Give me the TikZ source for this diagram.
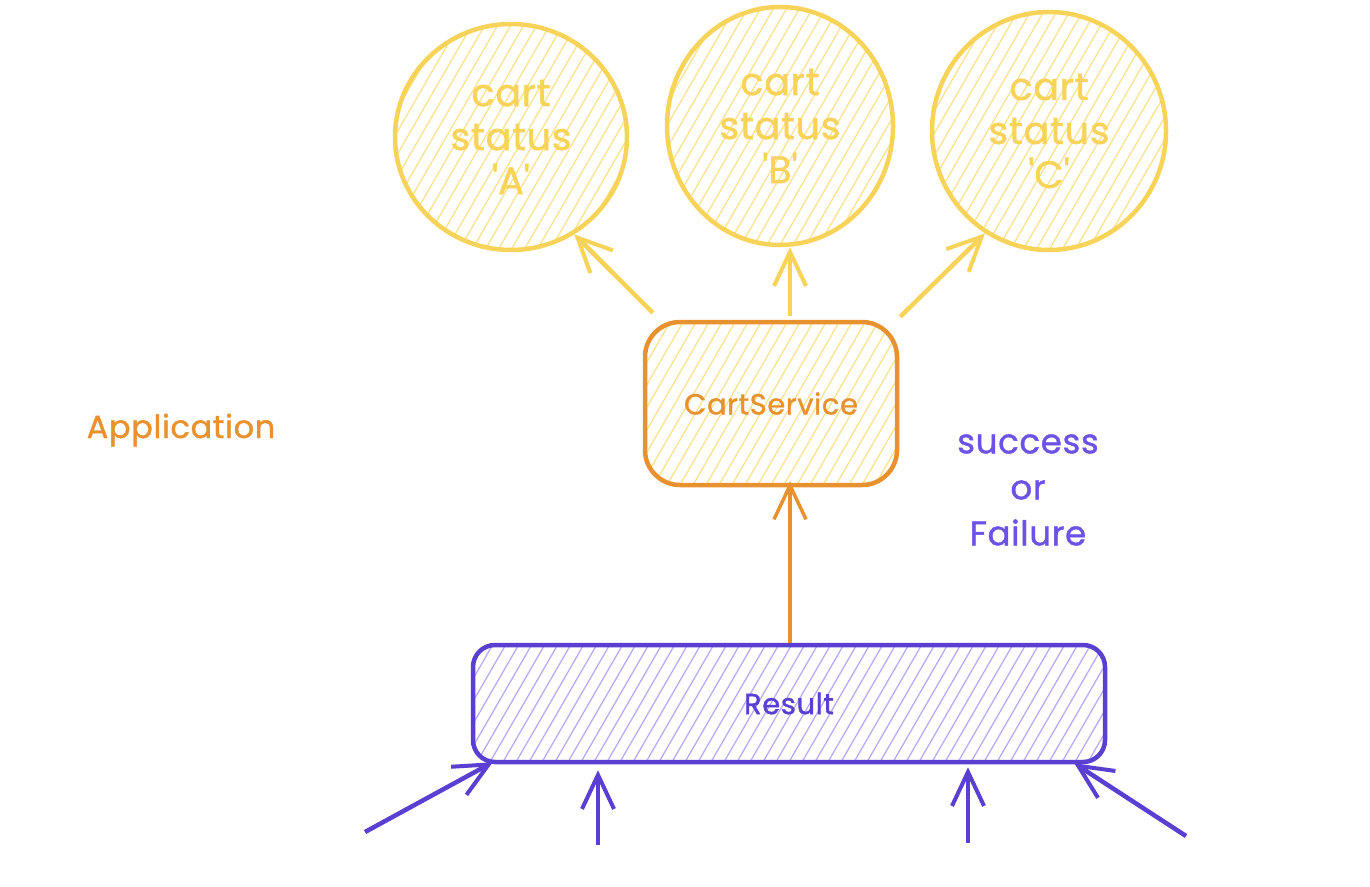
\documentclass[tikz,border=0pt]{standalone}
\usepackage{fontspec}
\setmainfont{Poppins}[FakeBold=1.2, LetterSpace=2]
\usetikzlibrary{shapes.geometric,arrows.meta}
\definecolor{yel}{HTML}{F8D35A}
\definecolor{yelhatch}{HTML}{FAE38F}
\definecolor{org}{HTML}{E8922F}
\definecolor{pur}{HTML}{5B3FD3}
\definecolor{purtext}{HTML}{6E52E6}
\definecolor{purhatch}{HTML}{BBABF6}
\newcommand{\sq}{\textquotesingle}
\tikzset{
  hatchfill/.style={path picture={
    \foreach \k in {-60,...,60}
      \draw[#1, line width=1.3pt] ([xshift={\k*13pt}]path picture bounding box.south) -- ++(60:320pt);}},
  statecircle/.style={ellipse, draw=yel, line width=4.5pt, inner sep=0pt, hatchfill=yelhatch,
    text=yel, font=\fontsize{38}{44}\selectfont, align=center},
  cartbox/.style={rectangle, rounded corners=35pt, draw=org, line width=4.5pt, inner sep=0pt,
    hatchfill=yelhatch, text=org, font=\fontsize{29}{34}\selectfont},
  resbox/.style={rectangle, rounded corners=22pt, draw=pur, line width=4.5pt, inner sep=0pt,
    hatchfill=purhatch, text=pur, font=\fontsize{29}{34}\selectfont},
  barb/.style={-{Straight Barb[length=34pt,width=32pt,line width=#1]}},
  yarrow/.style={draw=yel, line width=4.5pt, barb=4pt},
  oarrow/.style={draw=org, line width=4pt, barb=3.5pt},
  parrow/.style={draw=pur, line width=4.5pt, barb=4pt},
}
\begin{document}
\begin{tikzpicture}[x=1pt,y=-1pt]
\useasboundingbox (0,0) rectangle (1370,886);
\fill[white] (0,0) rectangle (1370,886);

\node[statecircle, minimum width=232pt, minimum height=226pt] (A) at (511,137) {cart\\status\\\sq A\sq};
\node[statecircle, minimum width=226pt, minimum height=238pt] (B) at (780,126) {cart\\status\\\sq B\sq};
\node[statecircle, minimum width=234pt, minimum height=238pt] (C) at (1049,131) {cart\\status\\\sq C\sq};

\node[cartbox, minimum width=252pt, minimum height=163pt] (cart) at (771,403.5) {CartService};
\node[resbox, minimum width=632pt, minimum height=117pt] (res) at (789,703.5) {Result};

\node[text=org, font=\fontsize{32}{36}\selectfont] (app) at (181,430) {Application};
\node[text=purtext, font=\fontsize{34}{46}\selectfont, align=center] (sf) at (1028,490) {success\\or\\Failure};

\draw[yarrow] ([shift={(10,-7)}]cart.north west) -- (A.-57);
\draw[yarrow] ([shift={(19,-4)}]cart.north) -- ([xshift=10pt]B.south);
\draw[yarrow] ([shift={(1,-3)}]cart.north east) -- (C.-122);

\draw[oarrow] ([xshift=1pt]res.north) -- ([shift={(19,-6)}]cart.south);

\coordinate (p1) at (365,832);
\coordinate (p2) at (598,845);
\coordinate (p3) at (968,843);
\coordinate (p4) at (1186,836);
\draw[parrow] (p1) -- ([shift={(22,-2)}]res.south west);
\draw[parrow] (p2) -- ([yshift=-6pt]p2 |- res.south);
\draw[parrow] (p3) -- ([yshift=-3pt]p3 |- res.south);
\draw[parrow] (p4) -- ([shift={(-33,-1)}]res.south east);
\end{tikzpicture}
\end{document}
